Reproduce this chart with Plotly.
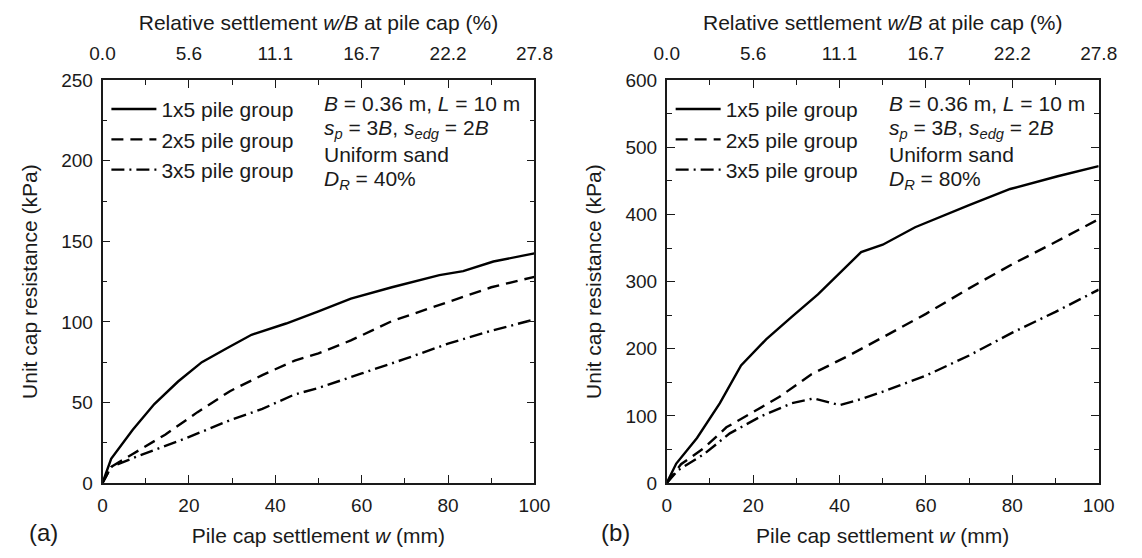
import plotly.graph_objects as go

# ---------------- data ----------------
# Panel (a): D_R = 40 %
a_x_1x5 = [0, 2, 7, 12, 17.5, 23, 29, 34.5, 42.5, 50, 57.5, 67, 78, 83.5, 90.5, 100]
a_y_1x5 = [0, 15, 33, 49, 63, 75, 84, 92, 99, 106.5, 114.5, 121.5, 129, 131.5, 137.5, 142.5]
a_x_2x5 = [0, 2, 7, 14.5, 22, 29.5, 37, 44.5, 50, 57.5, 67, 78, 90, 100]
a_y_2x5 = [0, 10, 18, 30, 44, 57, 67, 76, 80.5, 88.5, 100.5, 110.5, 121.5, 128]
a_x_3x5 = [0, 2, 8.5, 19.5, 29.5, 37, 44.5, 50, 60, 70, 80, 90, 100]
a_y_3x5 = [0, 10, 17, 28, 39, 46, 55, 59, 68, 77, 86.5, 94.5, 101.5]

# Panel (b): D_R = 80 %
b_x_1x5 = [0, 2.2, 7, 12.3, 17.2, 23, 29, 35, 45, 50, 57.5, 65, 70, 79.5, 90.5, 100]
b_y_1x5 = [0, 29, 67, 119, 175, 214, 248, 281, 344, 355, 381, 401, 414, 438, 457, 472]
b_x_2x5 = [0, 3.3, 8.6, 13.8, 19, 26, 33.5, 42.5, 50, 60, 70, 80, 90, 100]
b_y_2x5 = [0, 28, 52, 83, 102, 128, 162, 191, 217, 252, 290, 326, 359, 393]
b_x_3x5 = [0, 2.6, 8.6, 14.6, 22, 29, 34, 40, 45, 50, 60, 70, 80, 90, 100]
b_y_3x5 = [0, 19, 43, 74, 100, 119, 126, 116, 125, 136, 160, 190, 224, 255, 288]

series_names = ["1x5 pile group", "2x5 pile group", "3x5 pile group"]
bottom_ticks = [0, 20, 40, 60, 80, 100]
top_ticktext = ["0.0", "5.6", "11.1", "16.7", "22.2", "27.8"]
left_yticks = [0, 50, 100, 150, 200, 250]
right_yticks = [0, 100, 200, 300, 400, 500, 600]

# ---------------- styling ----------------
FONT = "Liberation Sans, Arial, sans-serif"
INK = "#1a1a1a"
W, H = 1142, 558
dashes = ["solid", "12px,7px", "13px,5px,2px,5px"]
TICK_SIZE = 19
TITLE_SIZE = 21
TEXT_SIZE = 21

def px(x):
    return x / W

def py(y):
    return 1 - y / H

dom_a = [px(92), px(536)]
dom_b = [px(672), px(1116)]
dom_y = [py(491.5), py(73)]

fig = go.Figure()

panels = [
    ("x", "y", "legend", [(a_x_1x5, a_y_1x5), (a_x_2x5, a_y_2x5), (a_x_3x5, a_y_3x5)]),
    ("x2", "y2", "legend2", [(b_x_1x5, b_y_1x5), (b_x_2x5, b_y_2x5), (b_x_3x5, b_y_3x5)]),
]
for xa, ya, lg, data in panels:
    for (xs, ys), name, d in zip(data, series_names, dashes):
        fig.add_trace(go.Scatter(
            x=xs, y=ys, mode="lines", name=name, xaxis=xa, yaxis=ya, legend=lg,
            line=dict(color="black", width=2.4, dash=d),
        ))

# invisible traces to activate the top axes
for xa, ya in [("x3", "y"), ("x4", "y2")]:
    fig.add_trace(go.Scatter(x=[0, 100], y=[0, 0], mode="lines", xaxis=xa, yaxis=ya,
                             line=dict(width=0), showlegend=False, hoverinfo="skip"))

common_axis = dict(
    showgrid=False, zeroline=False, showline=True, linecolor=INK, linewidth=1.6,
    ticks="inside", ticklen=8, tickwidth=1.4, tickcolor=INK,
    tickfont=dict(family=FONT, size=TICK_SIZE, color=INK),
)
minor = dict(ticks="inside", ticklen=5, tickwidth=1.4, tickcolor=INK, showgrid=False)

def bottom_axis(domain, anchor):
    return dict(common_axis, domain=domain, range=[0, 100], tickvals=bottom_ticks,
                mirror=True, anchor=anchor, ticklabelstandoff=4,
                minor=dict(minor, dtick=10, tick0=0),
                title=dict(text="Pile cap settlement <i>w</i> (mm)",
                           font=dict(family=FONT, size=TITLE_SIZE, color=INK), standoff=14))

def top_axis(over, anchor):
    return dict(common_axis, overlaying=over, anchor=anchor, side="top", range=[0, 100],
                tickvals=bottom_ticks, ticktext=top_ticktext, showline=False,
                ticklabelstandoff=15,
                minor=dict(minor, dtick=10, tick0=0),
                title=dict(text="Relative settlement <i>w/B</i> at pile cap (%)",
                           font=dict(family=FONT, size=TITLE_SIZE, color=INK), standoff=7))

def left_axis(rng, ticks, mdt, xanchor):
    return dict(common_axis, domain=dom_y, range=rng, tickvals=ticks, mirror="ticks",
                anchor=xanchor, ticklabelstandoff=4,
                minor=dict(minor, dtick=mdt, tick0=0),
                title=dict(text="Unit cap resistance (kPa)",
                           font=dict(family=FONT, size=TITLE_SIZE, color=INK), standoff=18))

legend_common = dict(xanchor="left", yanchor="top", bgcolor="rgba(0,0,0,0)",
                     font=dict(family=FONT, size=TEXT_SIZE, color=INK),
                     tracegroupgap=0, itemwidth=45)

fig.update_layout(
    width=W, height=H, margin=dict(l=0, r=0, t=0, b=0),
    paper_bgcolor="white", plot_bgcolor="white",
    font=dict(family=FONT, color=INK),
    xaxis=bottom_axis(dom_a, "y"), xaxis2=bottom_axis(dom_b, "y2"),
    xaxis3=top_axis("x", "y"), xaxis4=top_axis("x2", "y2"),
    yaxis=left_axis([0, 250], left_yticks, 25, "x"),
    yaxis2=left_axis([0, 600], right_yticks, 50, "x2"),
    legend=dict(legend_common, x=px(96), y=py(82)),
    legend2=dict(legend_common, x=px(676), y=py(82)),
    showlegend=True,
)

info = {
    "a": ("<i>D</i><sub><i>R</i></sub> = 40%", px(318)),
    "b": ("<i>D</i><sub><i>R</i></sub> = 80%", px(898)),
}
lines_common = [
    "<i>B</i> = 0.36 m, <i>L</i> = 10 m",
    "<i>s</i><sub><i>p</i></sub> = 3<i>B</i>, <i>s</i><sub><i>edg</i></sub> = 2<i>B</i>",
    "Uniform sand",
]
row_y = [97, 123.5, 150, 176.5]
for key in ["a", "b"]:
    dr_text, x0 = info[key]
    for txt, yy in zip(lines_common + [dr_text], row_y):
        fig.add_annotation(x=x0, y=py(yy), xref="paper", yref="paper", text=txt,
                           showarrow=False, xanchor="left", yanchor="middle",
                           font=dict(family=FONT, size=TEXT_SIZE, color=INK))

for label, x0 in [("(a)", 14), ("(b)", 602)]:
    fig.add_annotation(x=px(x0), y=py(543), xref="paper", yref="paper", text=label,
                       showarrow=False, xanchor="left", yanchor="middle",
                       font=dict(family=FONT, size=24, color=INK))

fig.write_html("out.html")
